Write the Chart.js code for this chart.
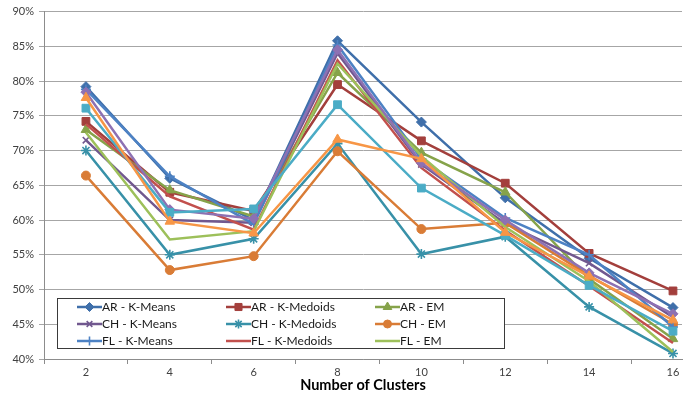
<!DOCTYPE html>
<html>
<head>
<meta charset="utf-8">
<script src="https://cdn.jsdelivr.net/npm/chart.js"></script>
<style>
  html, body { margin: 0; padding: 0; background: #fff; }
  #wrap { width: 699px; height: 394px; }
</style>
</head>
<body>
<div id="wrap"><canvas id="c" width="699" height="394"></canvas></div>
<script>
// Number of clusters on the x axis
const clusterCounts = [2, 4, 6, 8, 10, 12, 14, 16];

// Accuracy (%) per clustering run
const arKMeans    = [79.2, 66.0, 60.0, 85.8, 74.1, 63.2, 54.5, 47.4];
const arKMedoids  = [74.2, 64.0, 61.3, 79.5, 71.4, 65.3, 55.2, 49.8];
const arEM        = [73.0, 64.3, 60.5, 81.2, 69.7, 64.0, 51.5, 42.9];
const chKMeans    = [71.5, 60.0, 59.6, 84.0, 68.0, 59.5, 53.8, 46.0];
const chKMedoids  = [70.0, 55.0, 57.3, 71.0, 55.1, 57.6, 47.5, 40.8];
const chEM        = [66.4, 52.8, 54.8, 69.9, 58.7, 59.6, 52.0, 45.0];
const flKMeans    = [78.8, 66.3, 59.4, 85.2, 68.8, 60.3, 55.0, 44.6];
const flKMedoids  = [73.8, 63.4, 58.6, 83.0, 67.5, 58.5, 50.5, 42.3];
const flEM        = [72.6, 57.2, 58.4, 82.5, 69.2, 59.0, 51.2, 41.0];
const series10    = [78.4, 61.5, 60.2, 84.5, 68.2, 60.0, 52.4, 46.5];
const series11    = [76.1, 61.1, 61.6, 76.6, 64.6, 57.8, 50.6, 44.0];
const series12    = [77.6, 59.8, 58.1, 71.6, 68.8, 58.2, 51.9, 45.6];

// Percentage gridlines
const yTicks = [40, 45, 50, 55, 60, 65, 70, 75, 80, 85, 90];

const seriesList = [
  { label: 'AR - K-Means',   values: arKMeans,   color: '#3F6FAA', marker: 'rectRot',  r: 5 },
  { label: 'AR - K-Medoids', values: arKMedoids, color: '#A33F3C', marker: 'rect',     r: 5.5 },
  { label: 'AR - EM',        values: arEM,       color: '#86A34A', marker: 'triangle', r: 5.5 },
  { label: 'CH - K-Means',   values: chKMeans,   color: '#71588F', marker: 'crossRot', r: 4.5 },
  { label: 'CH - K-Medoids', values: chKMedoids, color: '#3891A8', marker: 'star',     r: 5 },
  { label: 'CH - EM',        values: chEM,       color: '#D97C36', marker: 'circle',   r: 4.5 },
  { label: 'FL - K-Means',   values: flKMeans,   color: '#4D82C4', marker: 'cross',    r: 5 },
  { label: 'FL - K-Medoids', values: flKMedoids, color: '#C2504D', marker: false,      r: 0 },
  { label: 'FL - EM',        values: flEM,       color: '#9DC05A', marker: false,      r: 0 },
  { label: 'Series 10',      values: series10,   color: '#8D71B3', marker: 'rectRot',  r: 5 },
  { label: 'Series 11',      values: series11,   color: '#4BACC6', marker: 'rect',     r: 5.5 },
  { label: 'Series 12',      values: series12,   color: '#F79646', marker: 'triangle', r: 5.5 }
];

const n = seriesList.length;
const datasets = seriesList.map((s, i) => ({
  label: s.label,
  data: clusterCounts.map((k, j) => ({ x: k, y: s.values[j] })),
  borderColor: s.color,
  backgroundColor: s.color,
  borderWidth: 2.5,
  pointStyle: s.marker || 'circle',
  pointRadius: s.r,
  pointBorderWidth: (s.marker === 'crossRot' || s.marker === 'star' || s.marker === 'cross') ? 1.6 : 1,
  pointBorderColor: s.color,
  pointBackgroundColor: s.color,
  tension: 0,
  fill: false,
  order: n - i,          // later series are painted over earlier ones
  legendRow: i < 9
}));

const uiFont = "Lato, 'Open Sans', sans-serif";

// Boxed legend drawn inside the plot area
const boxedLegend = {
  id: 'boxedLegend',
  afterDraw(chart) {
    const ctx = chart.ctx;
    const box = { left: 57, top: 298, right: 504, bottom: 348 };
    ctx.save();
    ctx.fillStyle = '#ffffff';
    ctx.fillRect(box.left, box.top, box.right - box.left, box.bottom - box.top);
    ctx.strokeStyle = '#3a3a3a';
    ctx.lineWidth = 1;
    ctx.strokeRect(box.left + 0.5, box.top + 0.5, box.right - box.left, box.bottom - box.top);
    const items = chart.data.datasets.filter(d => d.legendRow);
    items.forEach((d, i) => {
      const col = i % 3, row = Math.floor(i / 3);
      const x0 = 77 + col * 149;
      const y = 307 + row * 17;
      ctx.strokeStyle = d.borderColor;
      ctx.lineWidth = 2.5;
      ctx.beginPath();
      ctx.moveTo(x0, y);
      ctx.lineTo(x0 + 25, y);
      ctx.stroke();
      if (d.pointRadius > 0 && Chart.helpers && Chart.helpers.drawPoint) {
        ctx.fillStyle = d.pointBackgroundColor;
        ctx.strokeStyle = d.pointBorderColor;
        ctx.lineWidth = d.pointBorderWidth;
        Chart.helpers.drawPoint(ctx, {
          pointStyle: d.pointStyle,
          radius: d.pointRadius - 0.5,
          rotation: 0,
          borderWidth: d.pointBorderWidth
        }, x0 + 12.5, y);
      }
      ctx.fillStyle = '#1a1a1a';
      ctx.font = '12px ' + uiFont;
      ctx.textBaseline = 'middle';
      ctx.textAlign = 'left';
      ctx.fillText(d.label, x0 + 25, y + 0.5);
    });
    ctx.restore();
  }
};

new Chart(document.getElementById('c'), {
  type: 'line',
  data: { datasets },
  plugins: [boxedLegend],
  options: {
    responsive: false,
    animation: false,
    devicePixelRatio: 1,
    layout: { padding: { top: 7, right: 17, left: 0, bottom: 0 } },
    plugins: { legend: { display: false }, tooltip: { enabled: false } },
    scales: {
      x: {
        type: 'linear',
        min: 1,
        max: 16.215,
        afterBuildTicks: s => {
          const t = [];
          for (let v = 1; v <= 16; v++) t.push({ value: v });
          s.ticks = t;
        },
        afterFit: s => { s.height = 35; },
        ticks: {
          autoSkip: false,
          maxRotation: 0,
          padding: 2,
          color: '#404040',
          font: { family: uiFont, size: 11 },
          callback: v => (v % 2 === 0 ? String(v) : '')
        },
        grid: {
          drawOnChartArea: false,
          tickLength: 5,
          color: c => (c.tick && c.tick.value % 2 === 1 ? '#8c8c8c' : 'rgba(0,0,0,0)')
        },
        border: { color: '#8c8c8c', width: 1 },
        title: {
          display: true,
          text: 'Number of Clusters',
          color: '#000',
          font: { family: uiFont, size: 14.5, weight: 'bold' },
          padding: { top: 0, bottom: -0.5 }
        }
      },
      y: {
        min: 40,
        max: 90,
        afterBuildTicks: s => { s.ticks = yTicks.map(v => ({ value: v })); },
        afterFit: s => { s.width = 44; },
        ticks: {
          padding: 5,
          color: '#404040',
          font: { family: uiFont, size: 11 },
          callback: v => v + '%'
        },
        grid: { color: '#a6a6a6', tickLength: 5 },
        border: { color: '#8c8c8c', width: 1 }
      }
    }
  }
});
</script>
</body>
</html>
